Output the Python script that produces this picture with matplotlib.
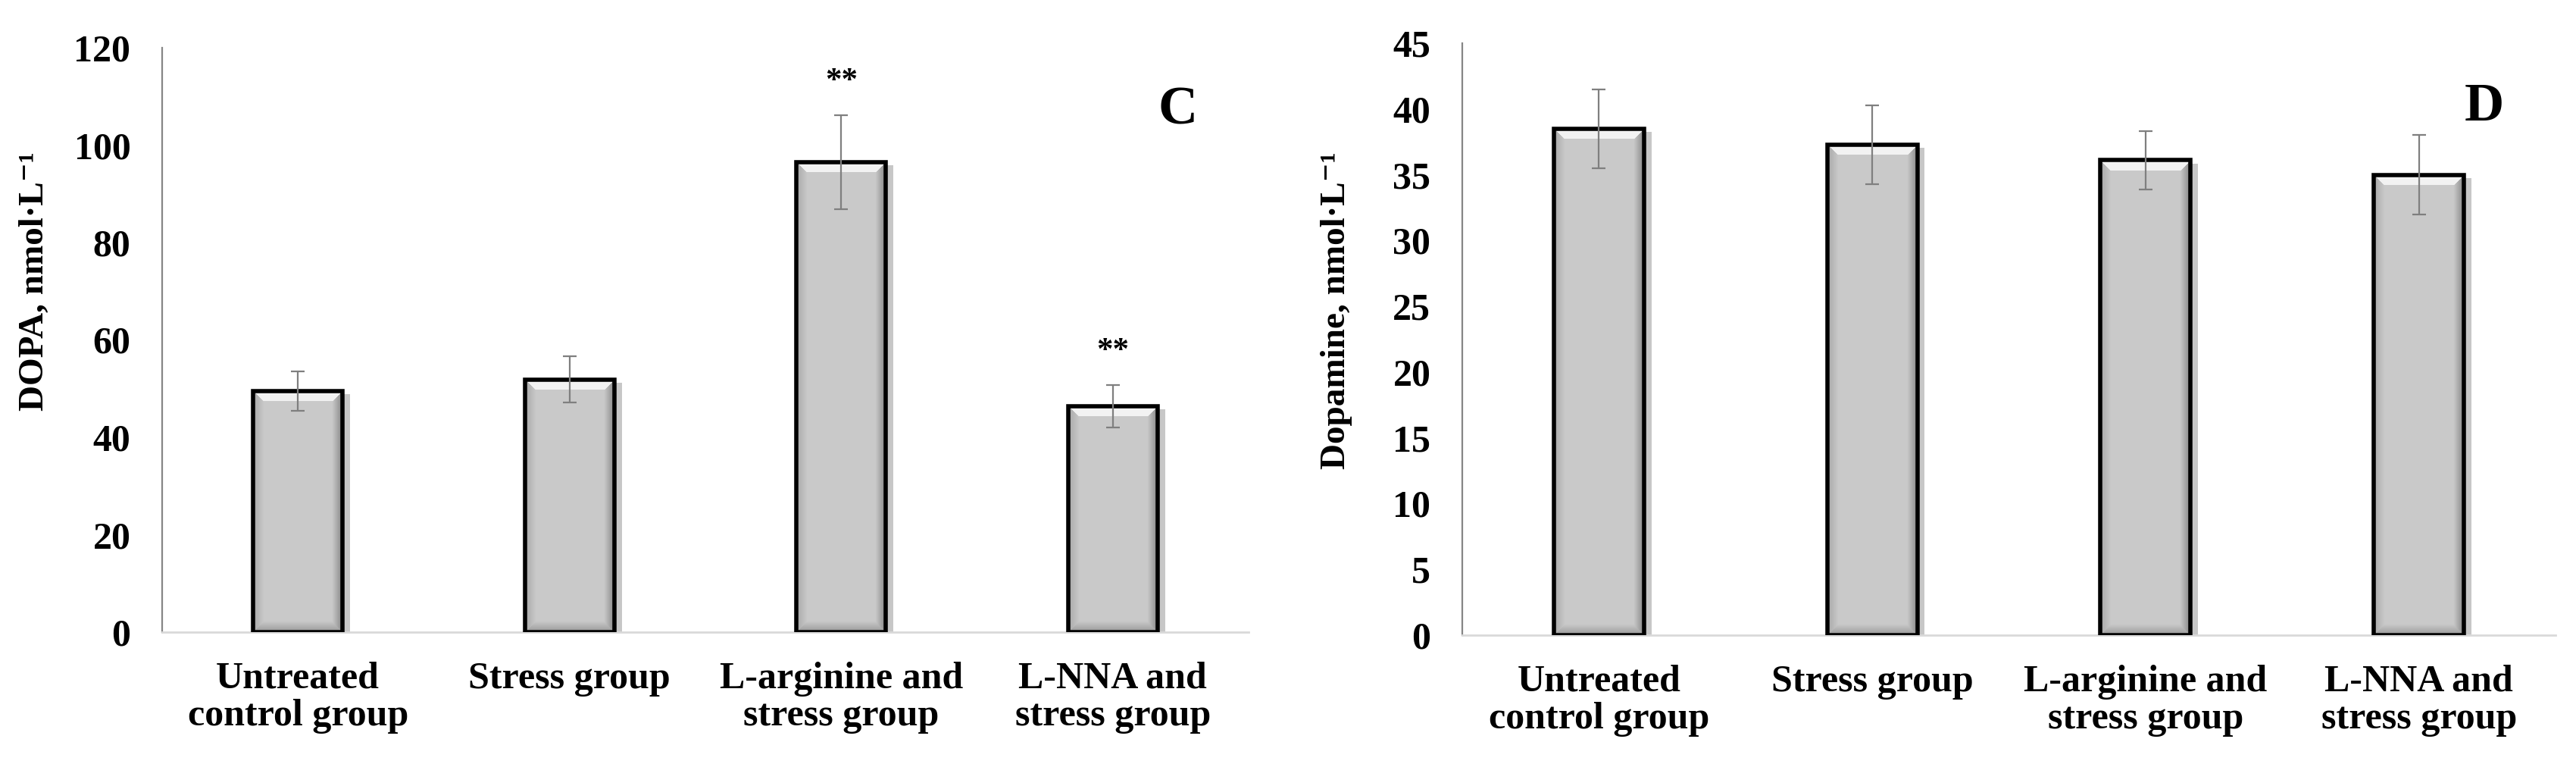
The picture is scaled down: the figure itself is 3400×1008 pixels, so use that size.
import numpy as np
import matplotlib
matplotlib.use('Agg')
import matplotlib.pyplot as plt
import matplotlib.patheffects as pe

SERIF = ['Liberation Serif', 'DejaVu Serif']
plt.rcParams['font.family'] = SERIF
plt.rcParams['font.weight'] = 'bold'

groups = ['Untreated\ncontrol group', 'Stress group',
          'L-arginine and\nstress group', 'L-NNA and\nstress group']

dopa = [49.5, 51.9, 96.5, 46.4]
dopa_err = [4.0, 4.7, 9.6, 4.3]
dopa_sig = ['', '', '**', '**']

dopamine = [38.5, 37.3, 36.1, 35.0]
dopamine_err = [3.0, 3.0, 2.2, 3.05]
dopamine_sig = ['', '', '', '']


def bevel_image(w, h, b=14):
    # grey bar face with darker sides and a light top edge
    rows, cols = np.mgrid[0:h, 0:w]
    d = np.stack([rows, cols, w - 1 - cols, h - 1 - rows])
    side = np.argmin(d, axis=0)
    m = np.min(d, axis=0)
    t = np.clip(m / b, 0, 1)
    base = 0.79
    edge = np.array([0.97, 0.66, 0.52, 0.60])[side]
    val = np.where(m < b, edge + (base - edge) * t, base)
    val[(side == 0) & (m < b)] = 0.95
    return np.dstack([val, val, val, np.ones_like(val)])


def draw_panel(ax, values, errs, sig, ylim, step, ylabel, letter, label_x):
    x = np.arange(len(values))
    ax.set_xlim(-0.5, len(values) - 0.5)
    ax.set_ylim(0, ylim)

    bars = ax.bar(x, values, width=0.33, color='#c9c9c9', edgecolor='none', zorder=2)
    for bar in bars:
        bar.set_path_effects([pe.SimplePatchShadow(offset=(7, -3), shadow_rgbFace='k', alpha=0.22),
                              pe.Normal()])
        x0, y0 = bar.get_x(), bar.get_y()
        x1, y1 = x0 + bar.get_width(), y0 + bar.get_height()
        p0 = ax.transData.transform((x0, y0))
        p1 = ax.transData.transform((x1, y1))
        w = max(int(round(p1[0] - p0[0])), 2)
        h = max(int(round(p1[1] - p0[1])), 2)
        im = ax.imshow(bevel_image(w, h), extent=(x0, x1, y0, y1), aspect='auto',
                       origin='upper', zorder=2.5, interpolation='bilinear')
        im.set_clip_path(bar)

    ax.bar(x, values, width=0.33, fill=False, edgecolor='black', linewidth=4, zorder=3)
    ax.errorbar(x, values, yerr=errs, fmt='none', ecolor='#7f7f7f', elinewidth=1.6,
                capsize=6.5, capthick=1.6, zorder=4)

    for xi, v, e, s in zip(x, values, errs, sig):
        if s:
            ax.text(xi, v + e + ylim * 0.045, s, ha='center', va='baseline', fontsize=31)

    ax.set_xlim(-0.5, len(values) - 0.5)
    ax.set_ylim(0, ylim)
    ax.set_yticks(np.arange(0, ylim + step / 2, step))
    ax.set_xticks(x)
    ax.set_xticklabels(groups, fontsize=36, linespacing=1.1)
    ax.tick_params(axis='y', length=0, pad=30, labelsize=36)
    ax.tick_params(axis='x', length=0, pad=28)

    for side in ['top', 'right']:
        ax.spines[side].set_visible(False)
    ax.spines['left'].set_color('#868686')
    ax.spines['left'].set_linewidth(1.6)
    ax.spines['bottom'].set_color('#d9d9d9')
    ax.spines['bottom'].set_linewidth(2)

    ax.text(0.935, 0.892, letter, transform=ax.transAxes, ha='center', va='center', fontsize=52)
    fig.text(label_x, 1 - 200 / 1008, ylabel, rotation=90, ha='center', va='top', fontsize=34,
             family=SERIF)


fig = plt.figure(figsize=(34, 10.08), dpi=100)
ax1 = fig.add_axes([214 / 3400, 174 / 1008, 1434 / 3400, 771 / 1008])
ax2 = fig.add_axes([1930 / 3400, 170 / 1008, 1443 / 3400, 781 / 1008])

draw_panel(ax1, dopa, dopa_err, dopa_sig, 120, 20, 'DOPA, nmol·L\u207b\u00b9', 'C', 46 / 3400)
draw_panel(ax2, dopamine, dopamine_err, dopamine_sig, 45, 5, 'Dopamine, nmol·L\u207b\u00b9', 'D', 1764 / 3400)

fig.savefig('out.png', dpi=100, facecolor='white')
